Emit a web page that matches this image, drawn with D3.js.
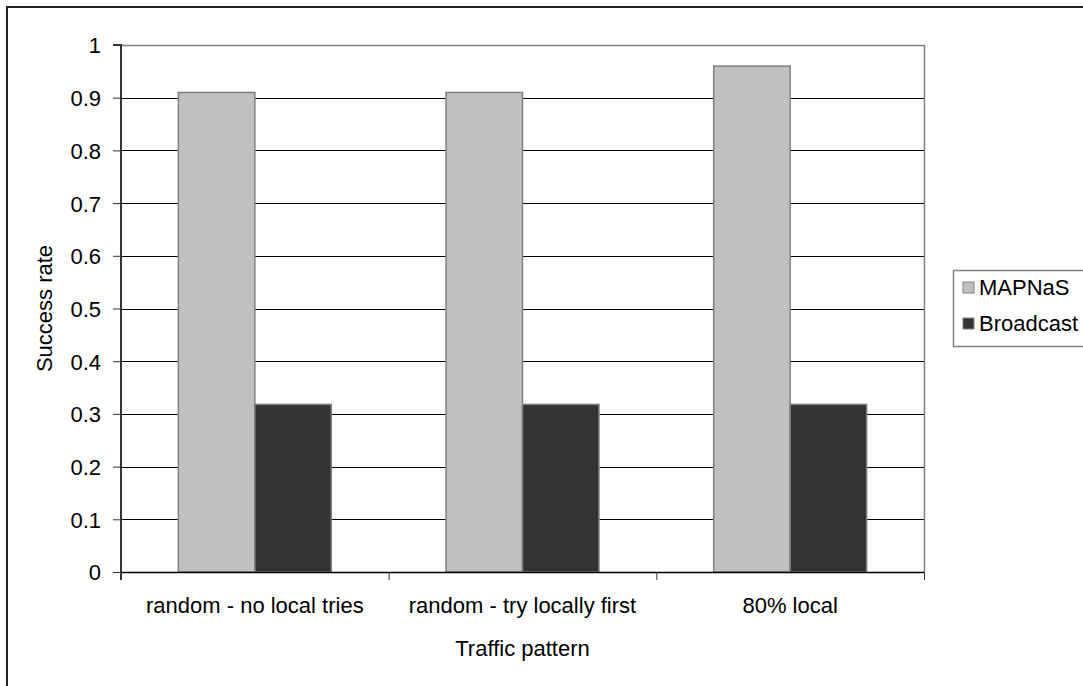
<!DOCTYPE html>
<html><head><meta charset="utf-8">
<script src="https://cdn.jsdelivr.net/npm/d3@7"></script>
<style>html,body{margin:0;padding:0;background:#fff;}svg{display:block;font-family:"Liberation Sans",Arial,sans-serif;}</style>
</head><body>
<svg id="chart" width="1083" height="686"></svg>
<script>
const categories = ["random - no local tries", "random - try locally first", "80% local"];
const seriesNames = ["MAPNaS", "Broadcast"];
const mapnasValues = [0.91, 0.91, 0.96];
const broadcastValues = [0.318, 0.318, 0.318];
const yTicks = [0, 0.1, 0.2, 0.3, 0.4, 0.5, 0.6, 0.7, 0.8, 0.9, 1];
const colors = ["#c0c0c0", "#333333"];

const FS = 22;
const svg = d3.select("#chart");
const L = 121, R = 924, T = 45, B = 572;

// outer frame
svg.append("path").attr("d", `M7,686 L7,7 L1083,7`).attr("fill","none").attr("stroke","#222").attr("stroke-width",2);

const x = d3.scaleBand().domain(categories).range([L, R]).paddingInner(0).paddingOuter(0);
const y = d3.scaleLinear().domain([0, 1]).range([B, T]);
const series = [mapnasValues, broadcastValues];
const bw = x.bandwidth() / 3.5;

// gridlines
svg.append("g").selectAll("line").data(yTicks.filter(d => d > 0 && d < 1)).join("line")
  .attr("x1", L).attr("x2", R).attr("y1", d => Math.round(y(d)) + 0.5).attr("y2", d => Math.round(y(d)) + 0.5)
  .attr("stroke", "#000").attr("stroke-width", 1);
// plot top/right border
svg.append("path").attr("d", `M${L},${T+0.5} L${R+0.5},${T+0.5} L${R+0.5},${B}`).attr("fill","none").attr("stroke","#808080").attr("stroke-width",1.5);

// bars
series.forEach((vals, si) => {
  svg.append("g").selectAll("rect").data(categories).join("rect")
    .attr("x", (c) => x(c) + x.bandwidth()/2 - bw + si*bw)
    .attr("y", (c, i) => y(vals[i]))
    .attr("width", bw)
    .attr("height", (c, i) => B - y(vals[i]))
    .attr("fill", colors[si])
    .attr("stroke", "#808080").attr("stroke-width", 1.5);
});

// y axis
const yAxis = d3.axisLeft(y).tickValues(yTicks).tickSize(8).tickPadding(12).tickFormat(d => d === 0 ? "0" : d === 1 ? "1" : d3.format(".1f")(d));
const gy = svg.append("g").attr("transform", `translate(${L},0)`).call(yAxis);
gy.attr("font-size", FS).attr("font-family", "Liberation Sans, Arial, sans-serif");
gy.select(".domain").attr("stroke", "#333").attr("stroke-width", 2).attr("d", `M-8,${T}H0V${B+8}`);
gy.selectAll(".tick line").attr("stroke", "#333");
gy.selectAll("text").attr("font-size", FS).attr("fill", "#000").attr("dy", "0.36em");

// x axis
const gx = svg.append("g").attr("transform", `translate(0,${B})`);
gx.append("line").attr("x1", L).attr("x2", R).attr("y1", 0.5).attr("y2", 0.5).attr("stroke", "#000").attr("stroke-width", 1.5);
const bounds = categories.map(c => x(c)).concat([R]);
gx.selectAll("line.tk").data(bounds).join("line").attr("class","tk")
  .attr("x1", d => d + 0.5).attr("x2", d => d + 0.5).attr("y1", 0).attr("y2", 8).attr("stroke", "#333").attr("stroke-width", 1);
gx.selectAll("text").data(categories).join("text")
  .attr("x", d => x(d) + x.bandwidth()/2).attr("y", 41).attr("text-anchor", "middle")
  .attr("font-size", FS).attr("fill", "#000").text(d => d);

// axis titles
svg.append("text").attr("x", (L+R)/2).attr("y", 656).attr("text-anchor","middle").attr("font-size",FS).text("Traffic pattern");
svg.append("text").attr("transform", `translate(52,${(T+B)/2}) rotate(-90)`).attr("text-anchor","middle").attr("font-size",FS).text("Success rate");

// legend
svg.append("path").attr("d", `M1084,270.5 H953.5 V346.5 H1084`).attr("fill","#fff").attr("stroke","#808080").attr("stroke-width",1.5);
const lg = svg.append("g").selectAll("g").data(seriesNames).join("g")
  .attr("transform", (d, i) => `translate(963,${282 + i*36})`);
lg.append("rect").attr("width", 11).attr("height", 11).attr("fill", (d, i) => colors[i]).attr("stroke", "#808080").attr("stroke-width", 1);
lg.append("text").attr("x", 16).attr("y", 13).attr("font-size", FS).attr("fill", "#000").text(d => d);
</script>
</body></html>
